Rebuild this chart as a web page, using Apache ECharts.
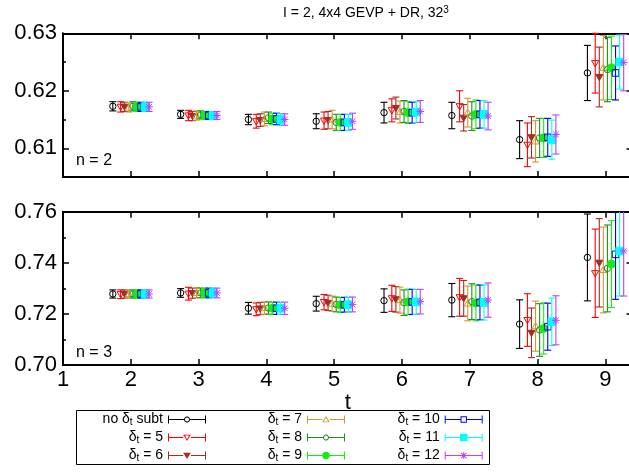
<!DOCTYPE html>
<html><head><meta charset="utf-8">
<script src="https://cdn.jsdelivr.net/npm/echarts@6/dist/echarts.min.js"></script>
<style>html,body{margin:0;padding:0;background:#fff}#c{width:629px;height:472px}</style>
</head><body><div id="c"></div>
<script>
// ---------------- data ----------------
const tValues = [2, 3, 4, 5, 6, 7, 8, 9];
const xTickLabels = [1, 2, 3, 4, 5, 6, 7, 8, 9];
const xTickMarks = [2, 3, 4, 5, 6, 7, 8, 9];
const yTicksTop = [0.61, 0.62, 0.63];
const yMinorTop = [0.605, 0.615, 0.625];
const yTicksBot = [0.70, 0.72, 0.74, 0.76];
const yMinorBot = [0.71, 0.73, 0.75];
const seriesNames = ['no δt subt', 'δt = 5', 'δt = 6', 'δt = 7', 'δt = 8', 'δt = 9', 'δt = 10', 'δt = 11', 'δt = 12'];
const titleText = 'I = 2, 4x4 GEVP + DR, 32';
const titleSup = '3';
const panelLabels = ['n = 2', 'n = 3'];

// n = 2 panel
const n2_none = [0.6173, 0.6159, 0.6150, 0.6147, 0.6162, 0.6157, 0.6115, 0.6231];
const n2_none_err = [0.0008, 0.0007, 0.0009, 0.0013, 0.0018, 0.0023, 0.0033, 0.0048];
const n2_d5 = [0.6172, 0.6157, 0.6147, 0.6148, 0.6166, 0.6173, 0.6106, 0.6248];
const n2_d5_err = [0.0009, 0.0009, 0.0012, 0.0015, 0.0020, 0.0027, 0.0038, 0.0052];
const n2_d6 = [0.6172, 0.6156, 0.6149, 0.6149, 0.6170, 0.6153, 0.6119, 0.6224];
const n2_d6_err = [0.0008, 0.0008, 0.0011, 0.0015, 0.0019, 0.0023, 0.0036, 0.0052];
const n2_d7 = [0.6171, 0.6157, 0.6151, 0.6150, 0.6163, 0.6162, 0.6112, 0.6240];
const n2_d7_err = [0.0008, 0.0008, 0.0012, 0.0016, 0.0019, 0.0025, 0.0036, 0.0056];
const n2_d8 = [0.6173, 0.6158, 0.6153, 0.6145, 0.6164, 0.6156, 0.6118, 0.6237];
const n2_d8_err = [0.0008, 0.0007, 0.0010, 0.0014, 0.0019, 0.0025, 0.0034, 0.0056];
const n2_d9 = [0.6172, 0.6157, 0.6151, 0.6145, 0.6162, 0.6159, 0.6118, 0.6240];
const n2_d9_err = [0.0008, 0.0007, 0.0010, 0.0014, 0.0019, 0.0025, 0.0034, 0.0055];
const n2_d10 = [0.6172, 0.6157, 0.6151, 0.6145, 0.6162, 0.6159, 0.6119, 0.6231];
const n2_d10_err = [0.0008, 0.0007, 0.0010, 0.0014, 0.0018, 0.0024, 0.0033, 0.0047];
const n2_d11 = [0.6172, 0.6157, 0.6150, 0.6145, 0.6163, 0.6159, 0.6115, 0.6250];
const n2_d11_err = [0.0008, 0.0007, 0.0010, 0.0014, 0.0018, 0.0024, 0.0034, 0.0047];
const n2_d12 = [0.6172, 0.6157, 0.6150, 0.6147, 0.6164, 0.6156, 0.6124, 0.6249];
const n2_d12_err = [0.0008, 0.0007, 0.0010, 0.0014, 0.0019, 0.0024, 0.0034, 0.0049];

// n = 3 panel
const n3_none = [0.7278, 0.7282, 0.7222, 0.7240, 0.7252, 0.7254, 0.7160, 0.7421];
const n3_none_err = [0.0016, 0.0017, 0.0023, 0.0029, 0.0046, 0.0065, 0.0095, 0.0170];
const n3_d5 = [0.7277, 0.7279, 0.7218, 0.7246, 0.7261, 0.7265, 0.7176, 0.7359];
const n3_d5_err = [0.0017, 0.0025, 0.0025, 0.0030, 0.0051, 0.0074, 0.0103, 0.0173];
const n3_d6 = [0.7278, 0.7281, 0.7221, 0.7243, 0.7257, 0.7261, 0.7126, 0.7400];
const n3_d6_err = [0.0016, 0.0020, 0.0024, 0.0030, 0.0050, 0.0070, 0.0097, 0.0173];
const n3_d7 = [0.7278, 0.7283, 0.7223, 0.7240, 0.7254, 0.7241, 0.7152, 0.7372];
const n3_d7_err = [0.0016, 0.0020, 0.0024, 0.0030, 0.0051, 0.0068, 0.0098, 0.0168];
const n3_d8 = [0.7278, 0.7282, 0.7223, 0.7237, 0.7244, 0.7248, 0.7137, 0.7378];
const n3_d8_err = [0.0016, 0.0019, 0.0024, 0.0029, 0.0050, 0.0070, 0.0103, 0.0170];
const n3_d9 = [0.7278, 0.7282, 0.7222, 0.7235, 0.7247, 0.7243, 0.7143, 0.7395];
const n3_d9_err = [0.0016, 0.0019, 0.0024, 0.0029, 0.0050, 0.0070, 0.0100, 0.0170];
const n3_d10 = [0.7278, 0.7282, 0.7222, 0.7236, 0.7247, 0.7245, 0.7150, 0.7433];
const n3_d10_err = [0.0016, 0.0019, 0.0024, 0.0029, 0.0049, 0.0068, 0.0092, 0.0176];
const n3_d11 = [0.7278, 0.7282, 0.7222, 0.7236, 0.7247, 0.7245, 0.7169, 0.7446];
const n3_d11_err = [0.0016, 0.0019, 0.0024, 0.0029, 0.0049, 0.0069, 0.0093, 0.0176];
const n3_d12 = [0.7278, 0.7282, 0.7222, 0.7237, 0.7248, 0.7254, 0.7175, 0.7446];
const n3_d12_err = [0.0016, 0.0019, 0.0024, 0.0029, 0.0048, 0.0067, 0.0096, 0.0176];

const panelValues = [
  [n2_none, n2_d5, n2_d6, n2_d7, n2_d8, n2_d9, n2_d10, n2_d11, n2_d12],
  [n3_none, n3_d5, n3_d6, n3_d7, n3_d8, n3_d9, n3_d10, n3_d11, n3_d12]
];
const panelErrors = [
  [n2_none_err, n2_d5_err, n2_d6_err, n2_d7_err, n2_d8_err, n2_d9_err, n2_d10_err, n2_d11_err, n2_d12_err],
  [n3_none_err, n3_d5_err, n3_d6_err, n3_d7_err, n3_d8_err, n3_d9_err, n3_d10_err, n3_d11_err, n3_d12_err]
];

// ---------------- style / layout ----------------
const FONT = 'Liberation Sans, Arial, Helvetica, sans-serif';
const X_SHIFT = [-0.265, -0.15, -0.09, -0.03, 0.03, 0.09, 0.15, 0.21, 0.27];
const STYLES = [
  { color: '#000000', marker: 'circleOpen' },
  { color: '#ff0000', marker: 'triDownOpen' },
  { color: '#a52a2a', marker: 'triDownFilled' },
  { color: '#d09a30', marker: 'triUpOpen' },
  { color: '#228b22', marker: 'circleOpen' },
  { color: '#11ee11', marker: 'circleFilled' },
  { color: '#0000ff', marker: 'squareOpen' },
  { color: '#00ffff', marker: 'squareFilled' },
  { color: '#bf3fff', marker: 'star' }
];
const PANELS = [
  { top: 33.3, height: 143.7, min: 0.605, max: 0.63, major: yTicksTop, minor: yMinorTop },
  { top: 211.7, height: 153.3, min: 0.70, max: 0.76, major: yTicksBot, minor: yMinorBot }
];

function markerShapes(kind, cx, cy, color) {
  const s = (fill) => ({ fill: fill ? color : 'none', stroke: color, lineWidth: 1 });
  switch (kind) {
    case 'circleOpen': return [{ type: 'circle', shape: { cx, cy, r: 3.2 }, style: s(false) }];
    case 'circleFilled': return [{ type: 'circle', shape: { cx, cy, r: 4 }, style: s(true) }];
    case 'triDownOpen': return [{ type: 'polygon', shape: { points: [[cx - 3.6, cy - 2.6], [cx + 3.6, cy - 2.6], [cx, cy + 3.6]] }, style: s(false) }];
    case 'triDownFilled': return [{ type: 'polygon', shape: { points: [[cx - 3.6, cy - 2.6], [cx + 3.6, cy - 2.6], [cx, cy + 3.6]] }, style: s(true) }];
    case 'triUpOpen': return [{ type: 'polygon', shape: { points: [[cx - 3.6, cy + 2.6], [cx + 3.6, cy + 2.6], [cx, cy - 3.6]] }, style: s(false) }];
    case 'squareOpen': return [{ type: 'rect', shape: { x: cx - 3.3, y: cy - 3.3, width: 6.6, height: 6.6 }, style: s(false) }];
    case 'squareFilled': return [{ type: 'rect', shape: { x: cx - 3.8, y: cy - 3.8, width: 7.6, height: 7.6 }, style: s(true) }];
    case 'star': {
      const L = 3.8, D = 2.8;
      const segs = [[-L, 0, L, 0], [0, -L, 0, L], [-D, -D, D, D], [-D, D, D, -D]];
      return segs.map(g => ({ type: 'line', shape: { x1: cx + g[0], y1: cy + g[1], x2: cx + g[2], y2: cy + g[3] }, style: { stroke: color, lineWidth: 1 } }));
    }
  }
  return [];
}

function makeRender(st) {
  return function (params, api) {
    const x = api.value(0), y = api.value(1), e = api.value(2);
    const cs = params.coordSys;
    const p = api.coord([x, y]);
    const yt = api.coord([x, y + e])[1];
    const yb = api.coord([x, y - e])[1];
    const top = cs.y, bottom = cs.y + cs.height;
    const ln = () => ({ stroke: st.color, lineWidth: 1.1 });
    const ch = [];
    const a = Math.max(yt, top), b = Math.min(yb, bottom);
    if (b > a) ch.push({ type: 'line', shape: { x1: p[0], y1: a, x2: p[0], y2: b }, style: ln() });
    const cw = 3.5;
    if (yt >= top) ch.push({ type: 'line', shape: { x1: p[0] - cw, y1: yt, x2: p[0] + cw, y2: yt }, style: ln() });
    if (yb <= bottom) ch.push({ type: 'line', shape: { x1: p[0] - cw, y1: yb, x2: p[0] + cw, y2: yb }, style: ln() });
    if (p[1] >= top && p[1] <= bottom) markerShapes(st.marker, p[0], p[1], st.color).forEach(m => ch.push(m));
    return { type: 'group', children: ch };
  };
}

// ---------- legend icon paths (380 x 80 units, 10 units per px) ----------
function area(pts) { let s = 0; for (let i = 0; i < pts.length; i++) { const a = pts[i], b = pts[(i + 1) % pts.length]; s += a[0] * b[1] - b[0] * a[1]; } return s; }
function poly(pts, hole) {
  let q = pts.slice();
  const cw = area(q) > 0;
  if ((hole && cw) || (!hole && !cw)) q.reverse();
  return 'M' + q.map(p => p[0].toFixed(1) + ' ' + p[1].toFixed(1)).join(' L') + ' Z ';
}
function rectP(x0, y0, x1, y1, hole) { return poly([[x0, y0], [x1, y0], [x1, y1], [x0, y1]], hole); }
function circP(cx, cy, r, hole) { const pts = []; for (let i = 0; i < 28; i++) { const a = i / 28 * Math.PI * 2; pts.push([cx + r * Math.cos(a), cy + r * Math.sin(a)]); } return poly(pts, hole); }
function barP(cx, cy, ang, L, w) {
  const d = [Math.cos(ang), Math.sin(ang)], n = [-Math.sin(ang), Math.cos(ang)];
  return poly([[cx - d[0] * L - n[0] * w, cy - d[1] * L - n[1] * w], [cx + d[0] * L - n[0] * w, cy + d[1] * L - n[1] * w],
  [cx + d[0] * L + n[0] * w, cy + d[1] * L + n[1] * w], [cx - d[0] * L + n[0] * w, cy - d[1] * L + n[1] * w]], false);
}
function legendIcon(kind) {
  const cx = 190, cy = 40;
  let R = 35, m = '';
  switch (kind) {
    case 'circleOpen': R = 30; m = circP(cx, cy, 30, false) + circP(cx, cy, 20, true); break;
    case 'circleFilled': R = 38; m = circP(cx, cy, 38, false); break;
    case 'triDownOpen': R = 38; m = poly([[cx - 38, cy - 28], [cx + 38, cy - 28], [cx, cy + 36]], false) + poly([[cx - 22, cy - 19], [cx + 22, cy - 19], [cx, cy + 18]], true); break;
    case 'triDownFilled': R = 38; m = poly([[cx - 38, cy - 28], [cx + 38, cy - 28], [cx, cy + 36]], false); break;
    case 'triUpOpen': R = 38; m = poly([[cx - 38, cy + 28], [cx + 38, cy + 28], [cx, cy - 36]], false) + poly([[cx - 22, cy + 19], [cx + 22, cy + 19], [cx, cy - 18]], true); break;
    case 'squareOpen': R = 32; m = rectP(cx - 32, cy - 32, cx + 32, cy + 32, false) + rectP(cx - 22, cy - 22, cx + 22, cy + 22, true); break;
    case 'squareFilled': R = 38; m = rectP(cx - 38, cy - 38, cx + 38, cy + 38, false); break;
    case 'star': R = 0; m = barP(cx, cy, 0, 36, 5) + barP(cx, cy, Math.PI / 2, 36, 5) + barP(cx, cy, Math.PI / 4, 36, 5) + barP(cx, cy, -Math.PI / 4, 36, 5); break;
  }
  let line;
  if (R > 0) line = rectP(10, 35, cx - R, 45, false) + rectP(cx + R, 35, 370, 45, false);
  else line = rectP(10, 35, 370, 45, false);
  const caps = rectP(0, 0, 10, 80, false) + rectP(370, 0, 380, 80, false);
  return 'path://' + caps + line + m;
}

// ---------------- build option ----------------
const grids = [], xAxes = [], yAxes = [], series = [];
PANELS.forEach((pn, g) => {
  grids.push({ left: 63, right: -3.5, top: pn.top, height: pn.height, outerBoundsMode: 'none', containLabel: false });
  const axLine = { show: true, onZero: false, lineStyle: { color: '#000', width: 2 } };
  ['bottom', 'top'].forEach(pos => {
    const isMain = pos === 'bottom';
    const ax = {
      type: 'value', gridIndex: g, position: pos, min: 1, max: 9.4, interval: 1,
      axisLine: axLine, splitLine: { show: false },
      axisTick: { show: true, inside: true, length: 6, customValues: xTickMarks, lineStyle: { color: '#000', width: 1.5 } },
      axisLabel: { show: isMain && g === 1, customValues: xTickLabels, color: '#000', fontSize: 22, fontFamily: FONT, margin: 4 }
    };
    if (isMain && g === 1) {
      ax.name = 't'; ax.nameLocation = 'middle'; ax.nameGap = 21;
      ax.nameTextStyle = { color: '#000', fontSize: 22, fontFamily: FONT };
    }
    xAxes.push(ax);
  });
  ['left', 'right'].forEach(pos => {
    yAxes.push({
      type: 'value', gridIndex: g, position: pos, min: pn.min, max: pn.max,
      axisLine: axLine, splitLine: { show: false },
      axisTick: { show: true, inside: true, length: 6, customValues: pn.major, lineStyle: { color: '#000', width: 1.5 } },
      axisLabel: { show: pos === 'left', customValues: pn.major, formatter: v => v.toFixed(2), color: '#000', fontSize: 22, fontFamily: FONT, margin: 6 }
    });
    yAxes.push({
      type: 'value', gridIndex: g, position: pos, min: pn.min, max: pn.max,
      axisLine: { show: false }, splitLine: { show: false }, axisLabel: { show: false },
      axisTick: { show: true, inside: true, length: 3, customValues: pn.minor, lineStyle: { color: '#000', width: 1.5 } }
    });
  });
  seriesNames.forEach((nm, s) => {
    const vals = panelValues[g][s], errs = panelErrors[g][s];
    series.push({
      type: 'custom', name: nm, xAxisIndex: g * 2, yAxisIndex: g * 4,
      itemStyle: { color: STYLES[s].color },
      renderItem: makeRender(STYLES[s]),
      data: tValues.map((t, i) => [t + X_SHIFT[s], vals[i], errs[i]]),
      z: 2 + s
    });
  });
});

const legendCols = [[0, 1, 2], [3, 4, 5], [6, 7, 8]];
const legendRight = [423, 284, 146.3];
const legends = legendCols.map((idx, c) => ({
  orient: 'vertical', align: 'right', right: legendRight[c], top: 412.5, padding: 0,
  itemWidth: 38, itemHeight: 8, itemGap: 3, selectedMode: false,
  itemStyle: { borderWidth: 0 },
  data: idx.map(i => ({ name: seriesNames[i], icon: legendIcon(STYLES[i].marker) })),
  formatter: name => {
    const parts = name.split('δt');
    return '{n|' + parts[0] + 'δ}{s|t}{n|' + parts[1] + '}';
  },
  textStyle: {
    color: '#000', fontFamily: FONT,
    rich: {
      n: { fontSize: 14, lineHeight: 16, fontFamily: FONT, color: '#000' },
      s: { fontSize: 10, lineHeight: 10, fontFamily: FONT, color: '#000', verticalAlign: 'bottom' }
    }
  }
}));

const option = {
  animation: false,
  backgroundColor: '#fff',
  grid: grids, xAxis: xAxes, yAxis: yAxes, series: series, legend: legends,
  graphic: [
    { type: 'text', x: 366, y: 13, style: {
        text: '{a|' + titleText + '}{b|' + titleSup + '}', align: 'center', verticalAlign: 'middle',
        rich: { a: { fontSize: 14, fontFamily: FONT, fill: '#000', lineHeight: 16 }, b: { fontSize: 10, fontFamily: FONT, fill: '#000', verticalAlign: 'top', lineHeight: 10 } } } },
    { type: 'text', x: 76, y: 161, style: { text: panelLabels[0], fontSize: 16, fontFamily: FONT, fill: '#000', verticalAlign: 'middle' } },
    { type: 'text', x: 76, y: 353, style: { text: panelLabels[1], fontSize: 16, fontFamily: FONT, fill: '#000', verticalAlign: 'middle' } },
    { type: 'rect', shape: { x: 76.5, y: 410.5, width: 413, height: 54 }, style: { fill: 'none', stroke: '#000', lineWidth: 1 }, z: -1 }
  ]
};
const chart = echarts.init(document.getElementById('c'), null, { renderer: 'canvas' });
chart.setOption(option);
</script></body></html>
